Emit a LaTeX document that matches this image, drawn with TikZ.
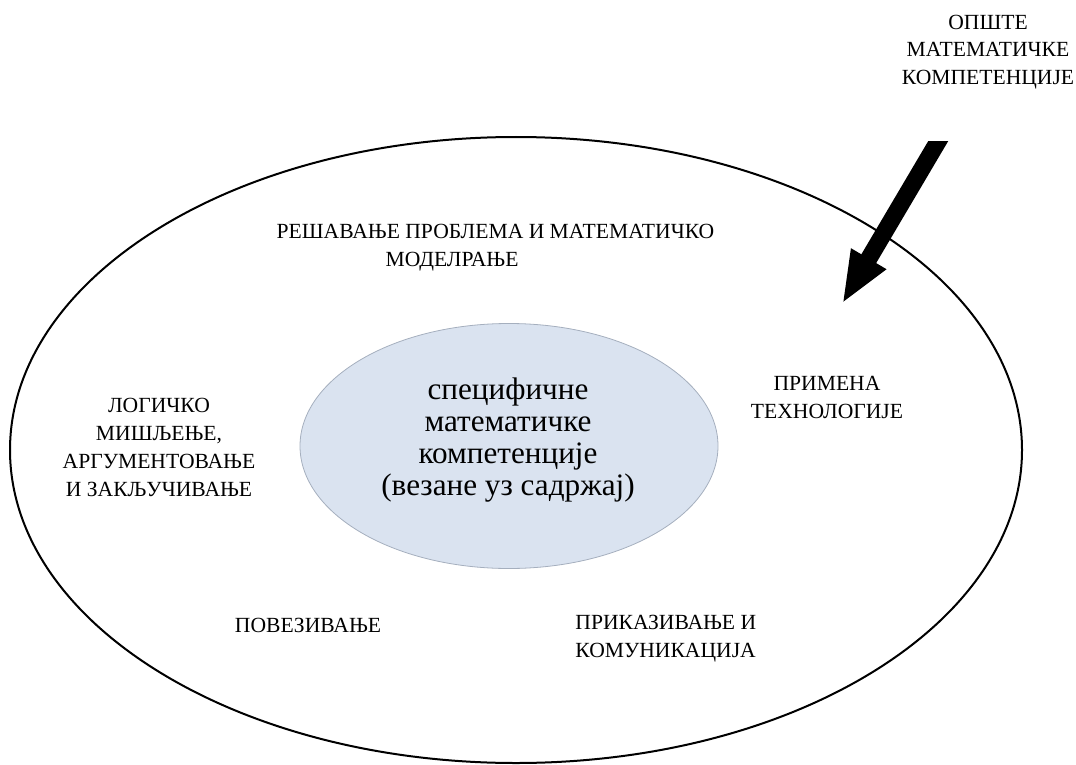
\documentclass[tikz,border=0pt]{standalone}
\usepackage{fontspec}
\setmainfont{Liberation Serif}
\usetikzlibrary{shapes.geometric, arrows.meta, positioning}
\definecolor{innerblue}{RGB}{218,227,240}
\definecolor{innerline}{RGB}{165,175,190}

\begin{document}
\begin{tikzpicture}[x=0.5pt, y=-0.5pt, font=\fontsize{10.8}{14}\selectfont, label/.style={align=center, inner sep=0pt}]
    \useasboundingbox (0,0) rectangle (1076,765);
    \node[draw, ellipse, line width=1pt, minimum width=506pt, minimum height=313pt, inner sep=0pt] (general) at (516,450) {};
    \node[ellipse, fill=innerblue, draw=innerline, line width=0.4pt, minimum width=209pt, minimum height=122.5pt, inner sep=0pt] (specific) at (509,446) {};
    \node[label, font=\fontsize{15.6}{16}\selectfont] (specifictext) at (508,440) {специфичне\\математичке\\компетенције\\(везане уз садржај)};

    \node[label, font=\fontsize{10.8}{13.6}\selectfont] (generaltext) at (988,52) {ОПШТЕ\\МАТЕМАТИЧКЕ\\КОМПЕТЕНЦИЈЕ};
    \node[label] (problem) at (495.5,248) {РЕШАВАЊЕ ПРОБЛЕМА И МАТЕМАТИЧКО\\МОДЕЛРАЊЕ\makebox[43.5pt]{}};
    \node[label] (technology) at (827,397) {ПРИМЕНА\\ТЕХНОЛОГИЈЕ};
    \node[label] (logic) at (159,447) {ЛОГИЧКО\\МИШЉЕЊЕ,\\АРГУМЕНТОВАЊЕ\\И ЗАКЉУЧИВАЊЕ};
    \node[label] (connecting) at (308,625) {ПОВЕЗИВАЊЕ};
    \node[label, align=left, anchor=west] (representation) at (575,639) {ПРИКАЗИВАЊЕ И\\КОМУНИКАЦИЈА};

    % block arrow, top edge cut level
    \coordinate (arrowtail) at (943,133);
    \coordinate (arrowtip) at (842,304);
    \begin{scope}
        \clip (800,142) rectangle (1000,330);
        \draw[line width=8.6pt, -{Triangle[width=18.4pt, length=26.3pt]}] (arrowtail) -- (arrowtip);
    \end{scope}
\end{tikzpicture}
\end{document}
